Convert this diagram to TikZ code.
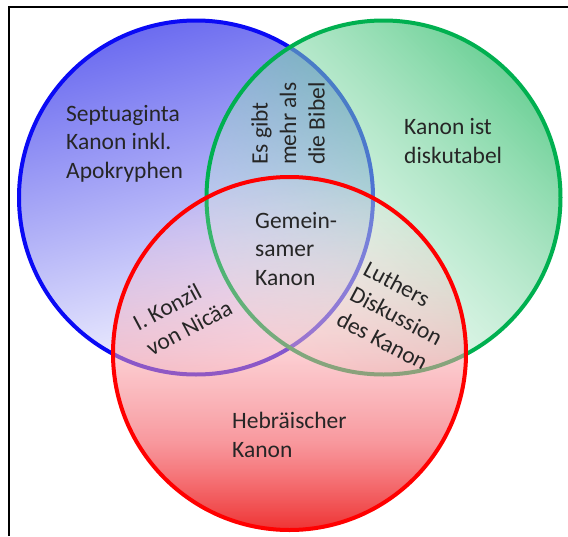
\documentclass[tikz,border=0pt]{standalone}
\usepackage{fontspec}
\setmainfont{Carlito}
\usetikzlibrary{fadings}
\definecolor{bluestroke}{RGB}{10,10,245}
\definecolor{greenstroke}{RGB}{0,176,80}
\definecolor{redstroke}{RGB}{255,0,0}
\definecolor{blueDark}{RGB}{108,108,240}
\definecolor{blueLight}{RGB}{250,250,255}
\definecolor{greenDark}{RGB}{65,195,120}
\definecolor{greenLight}{RGB}{225,248,235}
\definecolor{rA}{RGB}{238,40,40}
\definecolor{rB}{RGB}{246,115,122}
\definecolor{rC}{RGB}{250,160,168}
\definecolor{rD}{RGB}{255,225,230}
\pgfdeclareverticalshading{redgrad}{100bp}{color(0bp)=(rA); color(25bp)=(rA); color(37.5bp)=(rB); color(50bp)=(rC); color(75bp)=(rD); color(100bp)=(rD)}
\tikzfading[name=greenfade, top color=transparent!25, bottom color=transparent!75]
\tikzfading[name=redfade, top color=transparent!92, middle color=transparent!70, bottom color=transparent!5]
\tikzset{
  ring/.style={line width=4pt},
  lbl/.style={inner sep=0pt, align=left, font=\fontsize{23.5}{28.5}\selectfont, text=black!85},
}
\begin{document}
\begin{tikzpicture}[x=1pt,y=1pt]
\useasboundingbox (0,0) rectangle (568,-536);
\fill[white] (0,0) rectangle (568,-536);
\coordinate (fbl) at (9,-536);
\coordinate (ftl) at (9,-7);
\coordinate (ftr) at (568,-7);
\draw[line width=1.5pt, black] (fbl) -- (ftl) -- (ftr);
% blue circle
\shade[top color=blueDark, bottom color=blueLight, shading angle=15] (196,-197.5) circle (177);
\draw[ring, bluestroke] (196,-197.5) circle (177);
% green circle
\shade[top color=greenDark, bottom color=greenLight, shading angle=-45, path fading=greenfade, fading angle=-45] (383.5,-197.5) circle (177);
\draw[ring, greenstroke] (383.5,-197.5) circle (177);
% red circle
\shade[shading=redgrad, path fading=redfade] (289.5,-353.5) circle (176.5);
\draw[ring, redstroke] (289.5,-353.5) circle (176.5);
% labels
\node[lbl, anchor=west] (sept) at (66,-143.5) {Septuaginta\\Kanon inkl.\\Apokryphen};
\node[lbl, anchor=west] (disk) at (404,-141) {Kanon ist\\diskutabel};
\node[lbl, anchor=west, rotate=90] (bibel) at (288,-165) {Es gibt\\mehr als\\die Bibel};
\node[lbl, anchor=west] (gem) at (255,-248.5) {Gemein-\\samer\\Kanon};
\node[lbl, anchor=west] (heb) at (232,-435) {Hebräischer\\Kanon};
\node[lbl, anchor=west, rotate=28] (nic) at (141,-337) {I. Konzil\\von Nicäa};
\node[lbl, anchor=west, rotate=-28] (luth) at (352,-292) {Luthers\\Diskussion\\des Kanon};
\end{tikzpicture}
\end{document}
